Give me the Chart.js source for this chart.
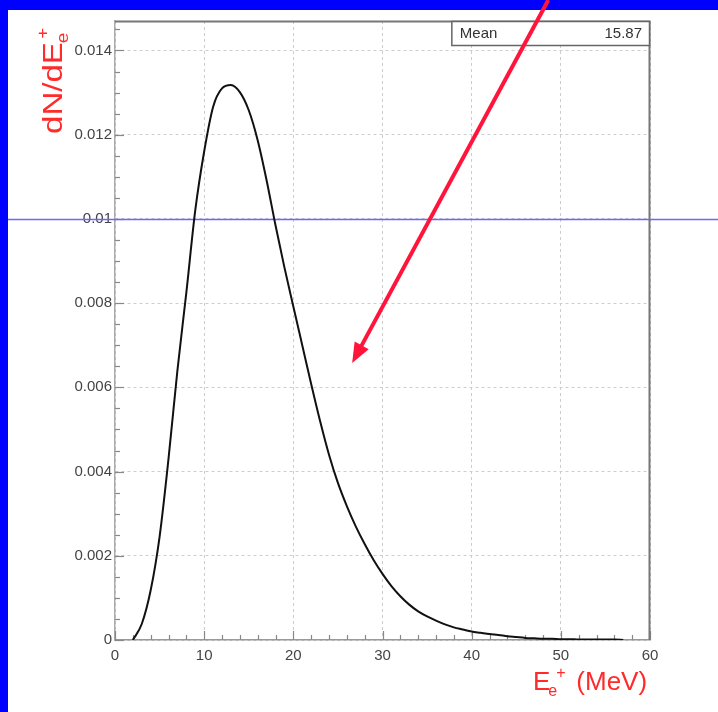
<!DOCTYPE html>
<html>
<head>
<meta charset="utf-8">
<script src="https://cdn.jsdelivr.net/npm/chart.js@4.4.1/dist/chart.umd.min.js"></script>
<style>
  html, body { margin: 0; padding: 0; background: #fff; }
  canvas { display: block; }
</style>
</head>
<body>
<canvas id="spectrum" width="718" height="712"></canvas>
<script>
// positron energy spectrum, E in MeV
const energies = [2, 3, 4, 5, 6, 7, 8, 9, 10, 11, 12, 13, 14, 15, 16, 17, 18, 19, 20,
    21, 22, 23, 24, 25, 26, 27, 28, 29, 30, 31, 32, 33, 34, 35, 36, 37, 38, 39, 40,
    41, 42, 43, 44, 45, 46, 47, 48, 49, 50, 51, 52, 53, 54, 55, 56, 57];
const rates = [0, 0.00038, 0.00118, 0.00245, 0.00430, 0.00640, 0.00825, 0.01020, 0.01160,
    0.01266, 0.01310, 0.01318, 0.01301, 0.01258, 0.01187, 0.01092, 0.00985, 0.00885, 0.00792,
    0.00700, 0.00608, 0.00520, 0.00440, 0.00373, 0.00318, 0.00270, 0.00228, 0.00190, 0.00157,
    0.00128, 0.00104, 0.00084, 0.00068, 0.00056, 0.00046, 0.00037, 0.00030, 0.00025, 0.00020,
    0.00017, 0.00014, 0.00012, 0.00009, 0.00007, 0.00005, 0.00004, 0.00003, 0.00003, 0.00002,
    0.00002, 0.00001, 0.00001, 0.00001, 0.00001, 0.00001, 0];
const yTickLabels = ['0', '0.002', '0.004', '0.006', '0.008', '0.01', '0.012', '0.014'];
const meanLabel = 'Mean';
const meanValue = '15.87';
const markerLevel = 0.01;
// arrow from outside the frame down to the falling edge (data coords)
const arrowTail = { x: 48.6, y: 0.0152 };
const arrowTip = { x: 26.6, y: 0.00658 };

const titleRed = '#ff2a2a';
const tickFont = '15px "Liberation Sans", Arial, sans-serif';

const framePlugin = {
    id: 'frame',
    beforeDraw(chart) {
        const c = chart.ctx;
        c.save();
        c.fillStyle = '#0000ff';
        c.fillRect(0, 0, chart.width, chart.height);
        c.fillStyle = '#ffffff';
        c.fillRect(8, 10, chart.width - 8, chart.height - 10);
        c.restore();
    },
    beforeDatasetsDraw(chart) {
        const c = chart.ctx;
        const { x, y } = chart.scales;
        const a = chart.chartArea;
        c.save();
        // inward ticks, ROOT style
        c.strokeStyle = '#888';
        c.lineWidth = 1.2;
        for (let v = 0; v <= 60; v += 2) {
            const px = Math.round(x.getPixelForValue(v)) + 0.5;
            const len = v % 10 === 0 ? 9 : 5;
            c.beginPath();
            c.moveTo(px, a.bottom);
            c.lineTo(px, a.bottom - len);
            c.stroke();
        }
        for (let i = 0; i <= 29; i++) {
            const v = i * 0.0005;
            const py = Math.round(y.getPixelForValue(v)) + 0.5;
            const len = i % 4 === 0 ? 9 : 5;
            c.beginPath();
            c.moveTo(a.left, py);
            c.lineTo(a.left + len, py);
            c.stroke();
        }
        // horizontal marker line across the whole pad
        const my = Math.round(y.getPixelForValue(markerLevel)) + 0.5;
        c.strokeStyle = 'rgb(105,105,255)';
        c.lineWidth = 1.5;
        c.beginPath();
        c.moveTo(8, my);
        c.lineTo(chart.width, my);
        c.stroke();
        c.restore();
    },
    afterDraw(chart) {
        const c = chart.ctx;
        const { x, y } = chart.scales;
        const a = chart.chartArea;
        c.save();
        // top and right frame
        c.strokeStyle = '#777';
        c.lineWidth = 2;
        c.beginPath();
        c.moveTo(a.left, a.top + 0.5);
        c.lineTo(a.right - 0.5, a.top + 0.5);
        c.lineTo(a.right - 0.5, a.bottom);
        c.stroke();

        // stats box
        const bx = x.getPixelForValue(50) - 109;
        const bw = a.right - 0.5 - bx;
        c.strokeStyle = '#666';
        c.lineWidth = 1.5;
        c.fillStyle = '#fff';
        c.fillRect(bx, a.top, bw, 24);
        c.strokeRect(bx, a.top + 0.5, bw, 24);
        c.fillStyle = '#333';
        c.font = tickFont;
        c.textBaseline = 'middle';
        c.textAlign = 'left';
        c.fillText(meanLabel, bx + 8, a.top + 13);
        c.textAlign = 'right';
        c.fillText(meanValue, a.right - 8, a.top + 13);

        // axis titles
        c.fillStyle = titleRed;
        c.textBaseline = 'alphabetic';
        c.textAlign = 'left';
        const big = '26px "Liberation Sans", Arial, sans-serif';
        const small = '16px "Liberation Sans", Arial, sans-serif';
        // x title
        c.font = big;
        const ex = 533, ey = 690;
        c.fillText('E', ex, ey);
        const ew = c.measureText('E').width;
        c.font = small;
        c.fillText('e', ex + ew - 2, ey + 6);
        c.fillText('+', ex + ew + 6, ey - 12);
        c.font = big;
        c.fillText('(MeV)', ex + ew + 26, ey);
        // y title, rotated and a little stretched along the text
        c.save();
        c.translate(62, 134);
        c.rotate(-Math.PI / 2);
        c.scale(1.18, 1);
        c.font = '28px "Liberation Sans", Arial, sans-serif';
        c.fillText('dN/dE', 0, 0);
        const yw = c.measureText('dN/dE').width;
        c.font = small;
        c.fillText('e', yw - 1, 6);
        c.fillText('+', yw + 3, -14);
        c.restore();

        // arrow
        const tx = x.getPixelForValue(arrowTail.x), ty = y.getPixelForValue(arrowTail.y);
        const hx = x.getPixelForValue(arrowTip.x), hy = y.getPixelForValue(arrowTip.y);
        const ang = Math.atan2(hy - ty, hx - tx);
        const headLen = 20, headHalf = 8;
        const baseX = hx - headLen * Math.cos(ang), baseY = hy - headLen * Math.sin(ang);
        c.strokeStyle = 'rgb(255,20,60)';
        c.fillStyle = 'rgb(255,20,60)';
        c.lineWidth = 4;
        c.beginPath();
        c.moveTo(tx, ty);
        c.lineTo(baseX + 2 * Math.cos(ang), baseY + 2 * Math.sin(ang));
        c.stroke();
        c.beginPath();
        c.moveTo(hx, hy);
        c.lineTo(baseX + headHalf * Math.sin(ang), baseY - headHalf * Math.cos(ang));
        c.lineTo(baseX - headHalf * Math.sin(ang), baseY + headHalf * Math.cos(ang));
        c.closePath();
        c.fill();
        c.restore();
    }
};

new Chart(document.getElementById('spectrum'), {
    type: 'line',
    data: {
        datasets: [{
            data: energies.map((e, i) => ({ x: e, y: rates[i] })),
            borderColor: '#111',
            borderWidth: 2,
            pointRadius: 0,
            fill: false,
            cubicInterpolationMode: 'monotone'
        }]
    },
    options: {
        responsive: false,
        animation: false,
        events: [],
        layout: { padding: { left: 0, top: 21, right: 68, bottom: 0 } },
        plugins: { legend: { display: false }, tooltip: { enabled: false } },
        scales: {
            x: {
                type: 'linear',
                min: 0,
                max: 60,
                ticks: { stepSize: 10, color: '#444', font: { family: '"Liberation Sans", Arial', size: 15 }, padding: 7, maxRotation: 0 },
                grid: { color: '#cdcdcd', lineWidth: 1, drawTicks: false },
                border: { color: '#999', width: 1.5, dash: [3, 3] },
                afterFit(scale) { scale.height = 72; }
            },
            y: {
                min: 0,
                max: 0.0147,
                ticks: {
                    stepSize: 0.002,
                    includeBounds: false,
                    color: '#444',
                    font: { family: '"Liberation Sans", Arial', size: 15 },
                    padding: 3,
                    callback: (v, i) => yTickLabels[i]
                },
                grid: { color: '#cdcdcd', lineWidth: 1, drawTicks: false },
                border: { color: '#aaa', width: 1.5, dash: [3, 3] },
                afterFit(scale) { scale.width = 115; }
            }
        }
    },
    plugins: [framePlugin]
});
</script>
</body>
</html>
